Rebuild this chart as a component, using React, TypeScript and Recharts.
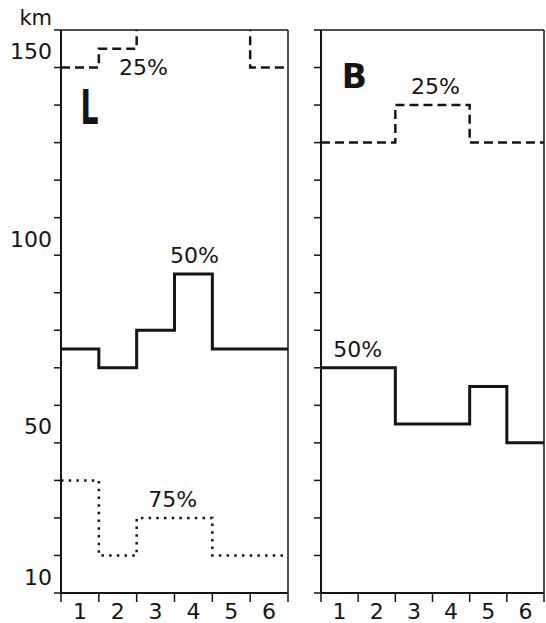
import { LineChart, Line, XAxis, YAxis, ReferenceLine, ReferenceDot } from "recharts";

// categories along the bottom, km scale on the left
const xLabels = ["1", "2", "3", "4", "5", "6"];
const yTicks = [10, 20, 30, 40, 50, 60, 70, 80, 90, 100, 110, 120, 130, 140, 150, 160];
const yLabels = [10, 50, 100, 150];

// panel L (values above 160 run off the top of the frame)
const l25 = [150, 155, 170, 170, 170, 150];
const l50 = [75, 70, 80, 95, 75, 75];
const l75 = [40, 20, 30, 30, 20, 20];

// panel B
const b25 = [130, 130, 140, 140, 130, 130];
const b50 = [70, 70, 55, 55, 65, 50];

type Note = { x: number; y: number; text: string; big?: boolean; size: number; w?: number };

const lNotes: Note[] = [
  { x: 0.75, y: 139.5, text: "L", big: true, size: 48, w: 18 },
  { x: 2.18, y: 150, text: "25%", size: 22 },
  { x: 3.53, y: 100, text: "50%", size: 22 },
  { x: 2.95, y: 35, text: "75%", size: 22 },
];
const bNotes: Note[] = [
  { x: 0.9, y: 147.5, text: "B", big: true, size: 33 },
  { x: 3.08, y: 145, text: "25%", size: 22 },
  { x: 0.99, y: 75, text: "50%", size: 22 },
];

const FONT = "'DejaVu Sans', sans-serif";
const INK = "#151515";

function buildRows(series: Record<string, number[]>) {
  // step lines need a closing point at x = 6 carrying the last value
  return [0, 1, 2, 3, 4, 5, 6].map((i) => {
    const row: Record<string, number> = { x: i };
    for (const k of Object.keys(series)) row[k] = series[k][Math.min(i, 5)];
    return row;
  });
}

const lRows = buildRows({ p25: l25, p50: l50, p75: l75 });
const bRows = buildRows({ p25: b25, p50: b50 });

function Panel({
  rows,
  notes,
  width,
  showLabels,
  left,
}: {
  rows: Record<string, number>[];
  notes: Note[];
  width: number;
  showLabels: boolean;
  left: number;
}) {
  const margin = { top: 30, right: 2, left: 0, bottom: 0 };
  const plotW = width - 61 - margin.right;
  const half = plotW / 12;
  const hasP75 = rows[0].p75 !== undefined;

  const xTick = (p: any) => {
    const v = p.payload.value;
    if (v >= 6) return <g />;
    return (
      <text x={p.x + half} y={p.y + 16} textAnchor="middle" fontSize={22} fontFamily={FONT} fill={INK}>
        {xLabels[v]}
      </text>
    );
  };

  const yTick = (p: any) => {
    const v = p.payload.value;
    if (!showLabels) return <g />;
    if (v === 160)
      return (
        <text x={p.x} y={p.y - 5} textAnchor="end" fontSize={21} fontFamily={FONT} fill={INK}>
          km
        </text>
      );
    if (!yLabels.includes(v)) return <g />;
    return (
      <text x={p.x} y={p.y - 16} textAnchor="end" dominantBaseline="central" fontSize={22} fontFamily={FONT} fill={INK}>
        {v}
      </text>
    );
  };

  return (
    <div style={{ position: "absolute", left, top: 0 }}>
      <LineChart width={width} height={623} data={rows} margin={margin}>
        <XAxis
          dataKey="x"
          type="number"
          domain={[0, 6]}
          ticks={[0, 1, 2, 3, 4, 5, 6]}
          height={30}
          tickSize={9}
          tickMargin={1}
          tick={xTick}
          axisLine={{ stroke: INK, strokeWidth: 2 }}
          tickLine={{ stroke: INK, strokeWidth: 1.5 }}
        />
        <YAxis
          type="number"
          domain={[10, 160]}
          ticks={yTicks}
          allowDataOverflow
          width={61}
          tickSize={7}
          tickMargin={2}
          tick={yTick}
          axisLine={{ stroke: INK, strokeWidth: 2 }}
          tickLine={{ stroke: INK, strokeWidth: 1.5 }}
        />
        <ReferenceLine y={160} stroke={INK} strokeWidth={1.5} />
        <ReferenceLine x={6} stroke={INK} strokeWidth={1.5} />
        <Line
          type="stepAfter"
          dataKey="p25"
          stroke={INK}
          strokeWidth={2.5}
          strokeDasharray="9 5"
          dot={false}
          isAnimationActive={false}
        />
        <Line type="stepAfter" dataKey="p50" stroke={INK} strokeWidth={3} dot={false} isAnimationActive={false} />
        {hasP75 && (
          <Line
            type="stepAfter"
            dataKey="p75"
            stroke={INK}
            strokeWidth={2.5}
            strokeDasharray="2.5 5.2"
            dot={false}
            isAnimationActive={false}
          />
        )}
        {notes.map((n) => (
          <ReferenceDot
            key={n.text}
            x={n.x}
            y={n.y}
            r={0}
            shape={(p: any) => (
              <text
                x={p.cx}
                y={p.cy}
                textAnchor="middle"
                dominantBaseline="central"
                fontSize={n.size}
                fontWeight={n.big ? 700 : 400}
                fontFamily={FONT}
                fill={INK}
                {...(n.w ? { textLength: n.w, lengthAdjust: "spacingAndGlyphs" } : {})}
              >
                {n.text}
              </text>
            )}
          />
        ))}
      </LineChart>
    </div>
  );
}

export default function App() {
  return (
    <div style={{ position: "absolute", left: 0, top: 0, width: 546, height: 623, background: "#fff", overflow: "hidden" }}>
      <Panel rows={lRows} notes={lNotes} width={290} showLabels left={0} />
      <Panel rows={bRows} notes={bNotes} width={286} showLabels={false} left={260} />
    </div>
  );
}
